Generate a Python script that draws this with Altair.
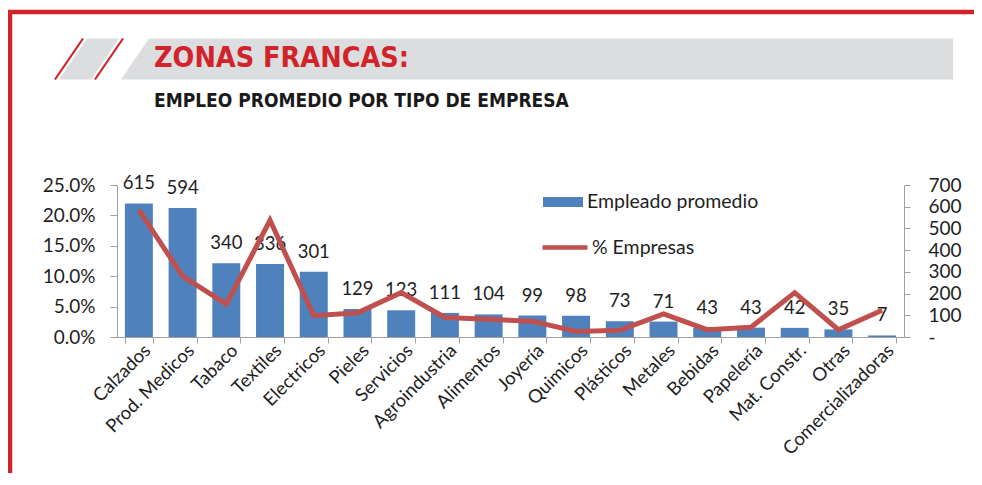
import altair as alt
import pandas as pd

# ---------------- data ----------------
categorias = ["Calzados", "Prod. Medicos", "Tabaco", "Textiles", "Electricos", "Pieles",
              "Servicios", "Agroindustria", "Alimentos", "Joyería", "Quimicos", "Plásticos",
              "Metales", "Bebidas", "Papelería", "Mat. Constr.", "Otras", "Comercializadoras"]
empleo = [615, 594, 340, 336, 301, 129, 123, 111, 104, 99, 98, 73, 71, 43, 43, 42, 35, 7]
pct_empresas = [0.209, 0.100, 0.054, 0.192, 0.035, 0.040, 0.073, 0.032, 0.029, 0.026,
                0.009, 0.011, 0.038, 0.012, 0.016, 0.073, 0.012, 0.044]
ticks_izq = [0, 0.05, 0.10, 0.15, 0.20, 0.25]
ticks_der = [0, 100, 200, 300, 400, 500, 600, 700]
serie_barras = "Empleado promedio"
serie_linea = "% Empresas"
titulo = "ZONAS FRANCAS:"
subtitulo = "EMPLEO PROMEDIO POR TIPO DE EMPRESA"

df = pd.DataFrame({"cat": categorias, "emp": empleo, "pct": pct_empresas,
                   "sb": serie_barras, "sl": serie_linea})
decor_df = pd.DataFrame({"k": [0]})

# ---------------- layout helpers ----------------
FONT = "Lato"
HEAD_FONT = "DejaVu Sans Condensed, Liberation Sans, sans-serif"
W, H = 787, 152
OX, OY = 117, 185          # plot origin in page pixels


def px(x):
    return x - OX


def py(y):
    return y - OY


BLUE = "#4F81BD"
RED_LINE = "#C0504D"
RED = "#D2232A"
GRAY = "#DCDDDF"
AXC = "#A0A0A0"
TXT = "#1e1e1e"

x_enc = alt.X(
    "cat:N", sort=categorias,
    scale=alt.Scale(paddingInner=0.36, paddingOuter=0.18),
    axis=alt.Axis(title=None, labelAngle=-45, labelAlign="right", labelBaseline="middle",
                  labelFontSize=18.5, labelFont=FONT, labelColor=TXT, tickBand="extent",
                  tickSize=6, tickColor=AXC, domainColor=AXC, labelPadding=4, labelOffset=8),
)

axis_der = alt.Axis(title=None, orient="right", values=ticks_der,
                    labelExpr="datum.value == 0 ? '-' : datum.label",
                    labelAlign="left", labelPadding=18, labelFontSize=19, labelFont=FONT,
                    labelColor=TXT, tickSize=6, tickColor=AXC, domainColor=AXC, grid=False)
axis_izq = alt.Axis(title=None, orient="left", values=ticks_izq, format=".1%",
                    labelPadding=15, labelFontSize=19, labelFont=FONT, labelColor=TXT,
                    tickSize=7, tickColor=AXC, domainColor=AXC, grid=False)

base = alt.Chart(df)

bars = base.mark_bar().encode(
    x=x_enc,
    y=alt.Y("emp:Q", scale=alt.Scale(domain=[0, 700]), axis=axis_der),
    color=alt.Color("sb:N", scale=alt.Scale(domain=[serie_barras], range=[BLUE]),
                    legend=alt.Legend(orient="none", legendX=436, legendY=7, title=None,
                                      symbolType="M -2 -0.5 L 2 -0.5 L 2 0.5 L -2 0.5 Z",
                                      symbolSize=400, symbolStrokeWidth=0, symbolOpacity=1,
                                      labelFontSize=19.5, labelFont=FONT, labelColor=TXT,
                                      labelOffset=14, labelLimit=400, padding=0)),
)

labels = base.mark_text(dy=-14, baseline="alphabetic", fontSize=18.5, font=FONT, color=TXT).encode(
    x=x_enc,
    y=alt.Y("emp:Q", scale=alt.Scale(domain=[0, 700]), axis=axis_der),
    text=alt.Text("emp:Q"),
)

line = base.mark_line(strokeWidth=5).encode(
    x=x_enc,
    y=alt.Y("pct:Q", scale=alt.Scale(domain=[0, 0.25]), axis=axis_izq),
    stroke=alt.Stroke("sl:N", scale=alt.Scale(domain=[serie_linea], range=[RED_LINE]),
                      legend=alt.Legend(orient="none", legendX=423, legendY=37.5, title=None,
                                        symbolType="stroke", symbolSize=2025,
                                        symbolStrokeWidth=4.5,
                                        labelFontSize=19.5, labelFont=FONT, labelColor=TXT,
                                        labelOffset=2, labelLimit=400, padding=0)),
)

# ---------------- header decoration ----------------
d = alt.Chart(decor_df)
top_red = d.mark_rule(color=RED, strokeWidth=4.5).encode(
    x=alt.value(px(8)), x2=alt.value(px(990)), y=alt.value(py(12)), y2=alt.value(py(12)))
left_red = d.mark_rule(color=RED, strokeWidth=4.5).encode(
    x=alt.value(px(10)), x2=alt.value(px(10)), y=alt.value(py(10)), y2=alt.value(py(490)))
slash_a = d.mark_rule(color=RED, strokeWidth=2.2).encode(
    x=alt.value(px(83)), x2=alt.value(px(55)), y=alt.value(py(38.5)), y2=alt.value(py(79.5)))
slash_b = d.mark_rule(color=RED, strokeWidth=2.2).encode(
    x=alt.value(px(123)), x2=alt.value(px(95)), y=alt.value(py(38.5)), y2=alt.value(py(79.5)))
gray_p = d.mark_point(shape="M -0.2 -2.05 L 3 -2.05 L 0.2 2.05 L -3 2.05 Z", size=400,
                      filled=True, opacity=1, strokeWidth=0, color=GRAY).encode(
    x=alt.value(px(89)), y=alt.value(py(59)))
banner = d.mark_point(shape="M -38.8 -2.05 L 41.6 -2.05 L 41.6 2.05 L -41.6 2.05 Z", size=400,
                      filled=True, opacity=1, strokeWidth=0, color=GRAY).encode(
    x=alt.value(px(537)), y=alt.value(py(59)))
title_t = d.mark_text(text=titulo, font=HEAD_FONT, fontWeight="bold", fontSize=28.5,
                      color=RED, align="left", baseline="alphabetic").encode(
    x=alt.value(px(154)), y=alt.value(py(67)))
sub_t = d.mark_text(text=subtitulo, font=HEAD_FONT, fontWeight="bold",
                    fontSize=19, color="#1a1a1a", align="left", baseline="alphabetic").encode(
    x=alt.value(px(154)), y=alt.value(py(106.5)))

chart = alt.layer(
    top_red, left_red, slash_a, gray_p, slash_b, banner, title_t, sub_t,
    alt.layer(bars, labels), line,
).resolve_scale(y="independent").properties(
    width=W, height=H,
    autosize=alt.AutoSizeParams(type="none"),
    padding={"left": 109, "top": 177, "right": 70, "bottom": 136},
    background="white",
).configure_view(stroke=None)

chart.save("out.html", embed_options={"renderer": "svg", "actions": False})
